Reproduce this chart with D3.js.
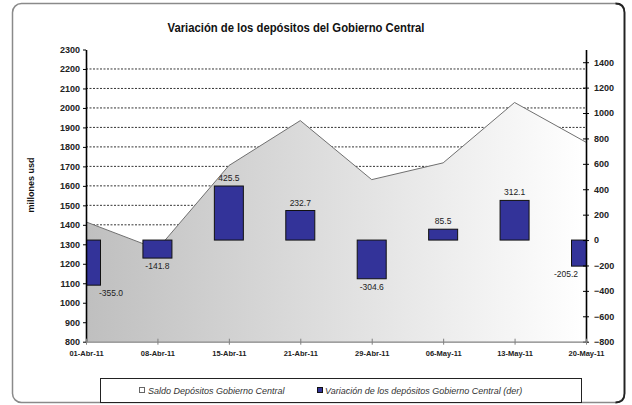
<!DOCTYPE html>
<html><head><meta charset="utf-8">
<script src="https://cdn.jsdelivr.net/npm/d3@7"></script>
<style>body{margin:0;background:#fff}svg{display:block;font-family:Arial,"Liberation Sans",sans-serif}</style>
</head><body>
<svg id="c" width="632" height="405"></svg>
<script>
const categories = ["01-Abr-11","08-Abr-11","15-Abr-11","21-Abr-11","29-Abr-11","06-May-11","13-May-11","20-May-11"];
const saldo = [1415,1275,1704,1935,1632,1718,2028,1824];
const variacion = [-355.0,-141.8,425.5,232.7,-304.6,85.5,312.1,-205.2];
const leftTicks = [800,900,1000,1100,1200,1300,1400,1500,1600,1700,1800,1900,2000,2100,2200,2300];
const rightTicks = [-800,-600,-400,-200,0,200,400,600,800,1000,1200,1400];
const gridValues = [900,1000,1100,1200,1300,1400,1500,1600,1700,1800,1900,2000,2100,2200];
const title = "Variación de los depósitos del Gobierno Central";
const yTitle = "millones usd";
const legendLabels = ["Saldo Depósitos Gobierno Central","Variación de los depósitos Gobierno Central (der)"];

const svg = d3.select("#c");
const L = 86, R = 586, T = 49.5, B = 341.7;
const x = d3.scalePoint().domain(categories).range([L, R]);
const yL = d3.scaleLinear().domain([800, 2300]).range([B, T]);
const yR = d3.scaleLinear().domain([-800, 1500]).range([B, T]);

// frame
svg.append("rect").attr("x",12.5).attr("y",3.5).attr("width",612).attr("height",399)
  .attr("rx",9).attr("fill","#fff").attr("stroke","#8a8a8a").attr("stroke-width",1.5);
svg.append("path").attr("d","M615.5,3.5 Q624.5,3.5 624.5,12.5 L624.5,393.5 Q624.5,402.5 615.5,402.5")
  .attr("fill","none").attr("stroke","#222").attr("stroke-width",1.8);

// defs
const defs = svg.append("defs");
const grad = defs.append("linearGradient").attr("id","g").attr("gradientUnits","userSpaceOnUse")
  .attr("x1",L).attr("x2",R).attr("y1",0).attr("y2",0);
grad.append("stop").attr("offset",0).attr("stop-color","#bfbfbf");
grad.append("stop").attr("offset",1).attr("stop-color","#ffffff");
defs.append("clipPath").attr("id","clip").append("rect")
  .attr("x",L).attr("y",T).attr("width",R-L).attr("height",B-T);

// title
svg.append("text").attr("x",296).attr("y",32).attr("text-anchor","middle")
  .attr("font-size",12).attr("font-weight","bold").attr("fill","#111")
  .attr("textLength",257).attr("lengthAdjust","spacingAndGlyphs").text(title);

// y title
svg.append("text").attr("transform","translate(34,185) rotate(-90)").attr("text-anchor","middle")
  .attr("font-size",9).attr("font-weight","bold").attr("fill","#111").text(yTitle);

// gridlines
svg.append("g").selectAll("line").data(gridValues).join("line")
  .attr("x1",L).attr("x2",R).attr("y1",d=>yL(d)).attr("y2",d=>yL(d))
  .attr("stroke","#000").attr("stroke-width",0.8).attr("stroke-dasharray","2,1.5");

// area
const idx = d3.range(categories.length);
svg.append("path").datum(idx)
  .attr("d", d3.area().x(i=>x(categories[i])).y0(yL(800)).y1(i=>yL(saldo[i])))
  .attr("fill","url(#g)");
svg.append("path").datum(idx)
  .attr("d", d3.line().x(i=>x(categories[i])).y(i=>yL(saldo[i])))
  .attr("fill","none").attr("stroke","#707070").attr("stroke-width",1);

// bars
const bw = 29;
svg.append("g").attr("clip-path","url(#clip)").selectAll("rect").data(idx).join("rect")
  .attr("x",i=>x(categories[i])-bw/2).attr("width",bw)
  .attr("y",i=>yR(Math.max(0,variacion[i])))
  .attr("height",i=>Math.abs(yR(variacion[i])-yR(0)))
  .attr("fill","#333399").attr("stroke","#111").attr("stroke-width",1);

// bar labels
svg.append("g").selectAll("text").data(idx).join("text")
  .attr("x",i=>Math.min(R-20, Math.max(L+25, x(categories[i]))))
  .attr("y",i=>variacion[i] < 0 ? yR(variacion[i]) + 11 : yR(variacion[i]) - 5)
  .attr("text-anchor","middle").attr("font-size",8.5).attr("fill","#222")
  .text(i=>variacion[i].toFixed(1));

// left axis
const gl = svg.append("g").attr("transform",`translate(${L},0)`)
  .call(d3.axisLeft(yL).tickValues(leftTicks).tickSize(3).tickSizeOuter(0).tickPadding(3).tickFormat(d3.format("d")));
gl.select(".domain").attr("stroke","#000").attr("stroke-width",1.6);
gl.selectAll(".tick line").attr("stroke","#000");
gl.selectAll(".tick text").attr("font-size",9).attr("font-weight","bold").attr("fill","#222").attr("font-family",null);

// right axis
const gr = svg.append("g").attr("transform",`translate(${R},0)`)
  .call(d3.axisRight(yR).tickValues(rightTicks).tickSize(3).tickSizeOuter(0).tickPadding(5).tickFormat(d3.format("d")));
gr.select(".domain").attr("stroke","#000").attr("stroke-width",1.6);
gr.selectAll(".tick line").attr("stroke","#000").attr("x1",-3);
gr.selectAll(".tick text").attr("font-size",9).attr("font-weight","bold").attr("fill","#222").attr("font-family",null);

// bottom axis
const gb = svg.append("g").attr("transform",`translate(0,${B})`)
  .call(d3.axisBottom(x).tickSize(3).tickSizeOuter(0).tickPadding(6));
gb.select(".domain").attr("stroke","#808080").attr("stroke-width",1.2);
gb.selectAll(".tick line").attr("stroke","#808080").attr("y1",-3);
gb.selectAll(".tick text").attr("font-size",7.5).attr("font-weight","bold").attr("fill","#222").attr("font-family",null);

// legend
svg.append("rect").attr("x",100.5).attr("y",378.5).attr("width",481).attr("height",24)
  .attr("fill","#fff").attr("stroke","#222").attr("stroke-width",1);
const lg = svg.append("g").attr("font-size",9).attr("font-style","italic").attr("fill","#333");
lg.append("rect").attr("x",139.5).attr("y",387.5).attr("width",5).attr("height",5)
  .attr("fill","#fff").attr("stroke","#666");
lg.append("text").attr("x",148).attr("y",393.5).text(legendLabels[0]);
lg.append("rect").attr("x",317.5).attr("y",387.5).attr("width",5).attr("height",5)
  .attr("fill","#333399").attr("stroke","#111");
lg.append("text").attr("x",325).attr("y",393.5).text(legendLabels[1]);
</script>
</body></html>
